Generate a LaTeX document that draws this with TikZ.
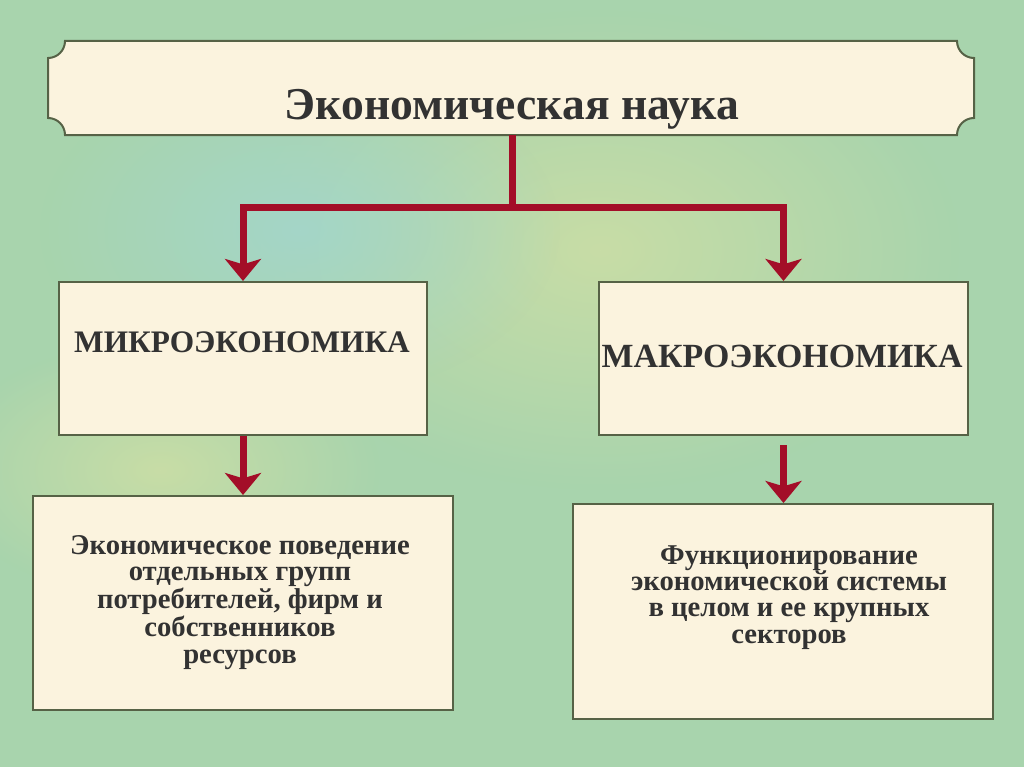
\documentclass[tikz,border=0pt]{standalone}
\usepackage{fontspec}
\setmainfont{Liberation Serif}
\usepackage{tikz}
\usetikzlibrary{
  arrows.meta,
  positioning,
  calc,
  fadings
}
\definecolor{SlideGreen}{RGB}{168,212,173}
\definecolor{SlideYellow}{RGB}{200,221,166}
\definecolor{SlideTeal}{RGB}{164,214,200}
\definecolor{PaperCream}{RGB}{251,243,222}
\definecolor{FrameOlive}{RGB}{86,98,70}
\definecolor{ArrowRed}{RGB}{163,14,40}
\definecolor{InkGray}{RGB}{50,50,50}
\tikzfading[name=softblob, inner color=transparent!0, outer color=transparent!100]
\tikzset{
  topicbox/.style={draw=FrameOlive,fill=PaperCream,line width=1.5pt,inner sep=0pt,anchor=north west},
  bannerframe/.style={draw=FrameOlive,fill=PaperCream,line width=1.5pt},
  headtext/.style={text=InkGray,inner sep=0pt,font=\bfseries\fontsize{34.2}{36}\selectfont},
  topictext/.style={text=InkGray,inner sep=0pt,anchor=base},
  desctext/.style={text=InkGray,inner sep=0pt,anchor=north,align=center,font=\bfseries\fontsize{21.5}{19.8}\selectfont},
  trunk/.style={draw=ArrowRed,line width=5.25pt},
  branch/.style={-{Stealth[length=16.5pt,width=27pt,inset=4pt]},draw=ArrowRed,line width=5.25pt}
}

\begin{document}
\begin{tikzpicture}[x=0.75pt,y=-0.75pt]
\useasboundingbox (0,0) rectangle (1024,767);
% background
\fill[SlideGreen] (0,0) rectangle (1024,767);
\begin{scope}
\clip (0,0) rectangle (1024,767);
\fill[SlideYellow, path fading=softblob] (600,250) ellipse [x radius=360, y radius=240];
\fill[SlideTeal, path fading=softblob] (300,230) ellipse [x radius=260, y radius=170];
\fill[SlideYellow, path fading=softblob] (160,470) ellipse [x radius=220, y radius=130];
\end{scope}

% title banner
\draw[bannerframe] (65,41) -- (957,41) arc[start angle=180,end angle=90,radius=17]
  -- (974,118) arc[start angle=270,end angle=180,radius=17]
  -- (65,135) arc[start angle=360,end angle=270,radius=17]
  -- (48,58) arc[start angle=90,end angle=0,radius=17] -- cycle;
\node[headtext, anchor=base] (title) at (512,119) {Экономическая наука};
\coordinate (bannerbot) at (512,135);

% boxes
\node[topicbox, minimum width=276pt, minimum height=114.75pt] (micro) at (58,281) {};
\node[topicbox, minimum width=276.75pt, minimum height=114.75pt] (macro) at (598,281) {};
\node[topicbox, minimum width=315pt, minimum height=160.5pt] (desc1) at (32,495) {};
\node[topicbox, minimum width=315pt, minimum height=161.25pt] (desc2) at (572,503) {};

\node[topictext, font=\bfseries\fontsize{23.5}{25}\selectfont] (microtext) at (242,352) {МИКРОЭКОНОМИКА};
\node[topictext, font=\bfseries\fontsize{25.4}{27}\selectfont] (macrotext) at (782,367) {МАКРОЭКОНОМИКА};
\node[desctext] (desc1text) at (240,535) {Экономическое поведение\\отдельных групп\\потребителей, фирм и\\собственников\\ресурсов};
\node[desctext] (desc2text) at (789,545) {Функционирование\\экономической системы\\в целом и ее крупных\\секторов};

% connectors
\coordinate (split) at (512,207);
\draw[trunk] (bannerbot) -- (split);
\draw[branch] (split) -| (micro.north);
\draw[branch] (split) -| (macro.north);
\draw[branch] (micro.south) -- (micro.south |- desc1.north);
\draw[branch, shorten <=6.75pt] (macro.south) -- (macro.south |- desc2.north);
\end{tikzpicture}
\end{document}
